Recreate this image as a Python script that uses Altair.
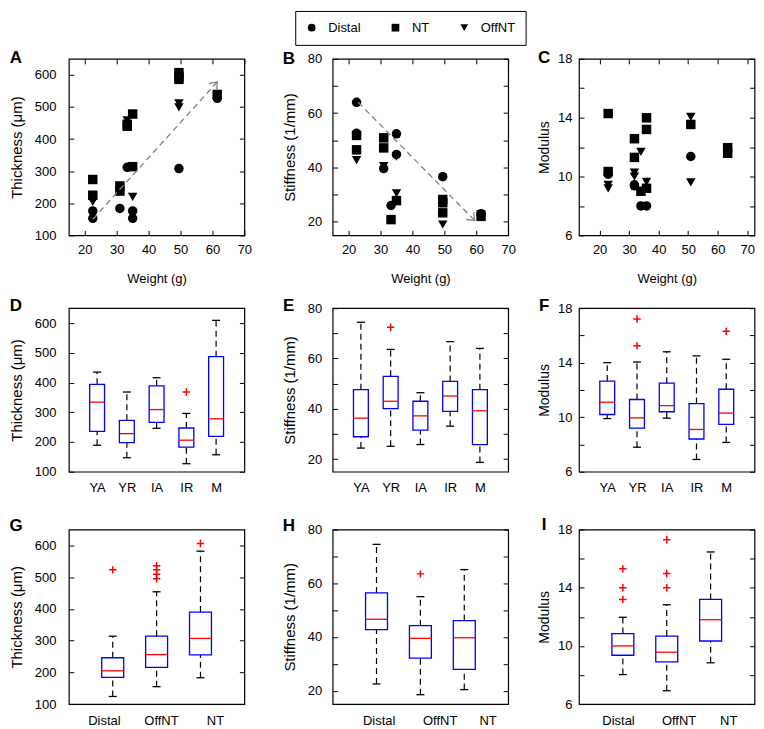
import altair as alt
import pandas as pd

FONT = "Liberation Sans"
BLUE = "#0000ff"
RED = "#ff0000"
GRAY = "#808080"

GROUPS = ["Distal", "NT", "OffNT"]
SHAPES = ["circle", "square", "triangle-down"]

# ---------------- Row 1: values against body weight (g) ----------------
a_weight = [22.5, 22.5, 31, 33.3, 35, 35, 49.5, 61.5,
            22.5, 22.5, 31, 31, 33.3, 33.3, 35, 35, 49.5, 49.5, 49.5, 61.5,
            22.5, 22.5, 31, 33.3, 35, 49.5, 49.5, 61.5]
a_thickness = [176, 153, 184, 312, 176, 153, 308, 527,
               274, 225, 254, 238, 446, 440, 478, 314, 607, 594, 586, 539,
               216, 204, 245, 458, 220, 511, 499, 533]
a_group = ["Distal"] * 8 + ["NT"] * 12 + ["OffNT"] * 8

b_weight = [22.5, 22.5, 31, 33.3, 35, 35, 49.5, 61.5,
            22.5, 22.5, 31, 31, 33.3, 35, 49.5, 49.5, 49.5, 61.5,
            22.5, 22.5, 31, 35, 35, 49.5, 61.5]
b_stiffness = [64, 52.6, 39.6, 26, 52.4, 44.8, 36.6, 23,
               51.8, 46.5, 50.9, 47.2, 20.8, 27.8, 28.2, 27, 23.3, 22,
               46, 42.7, 40.5, 44, 30.5, 19, 22.8]
b_group = ["Distal"] * 8 + ["NT"] * 10 + ["OffNT"] * 7

c_weight = [22.9, 31.8, 31.8, 34.0, 35.9, 50.9,
            22.9, 22.9, 31.8, 31.8, 34.0, 35.9, 35.9, 35.9, 50.9, 63.4, 63.4,
            22.9, 22.9, 31.8, 31.8, 34.0, 35.9, 50.9, 50.9, 63.4]
c_modulus = [10.16, 9.44, 9.37, 8.0, 8.0, 11.36,
             14.28, 10.34, 12.57, 11.3, 9.0, 13.99, 13.2, 9.2, 13.54, 11.96, 11.58,
             9.44, 9.2, 10.27, 10.0, 11.67, 9.64, 14.06, 9.6, 12.0]
c_group = ["Distal"] * 6 + ["NT"] * 11 + ["OffNT"] * 9

arrow_a_weight = [22.5, 61.5]
arrow_a_value = [150, 578]
arrow_b_weight = [23, 59.5]
arrow_b_value = [64, 20.5]

# ---------------- Row 2: by age group ----------------
age_names = ["YA", "YR", "IA", "IR", "M"]
d_lo = [189, 147, 246, 127, 157]
d_q1 = [236, 198, 266, 183, 219]
d_med = [334, 228, 309, 206, 278]
d_q3 = [394, 273, 389, 247, 487]
d_hi = [435, 368, 416, 296, 609]
d_out_pos = [4]
d_out_val = [368]

e_lo = [24.4, 25.1, 25.8, 33.1, 18.7]
e_q1 = [28.9, 40.1, 31.5, 39.0, 25.8]
e_med = [36.3, 43.0, 37.2, 45.1, 39.2]
e_q3 = [47.6, 52.9, 43.0, 50.9, 47.6]
e_hi = [74.4, 63.6, 46.4, 66.7, 64.0]
e_out_pos = [2]
e_out_val = [72.4]

f_lo = [9.9, 7.8, 9.93, 6.9, 8.15]
f_q1 = [10.2, 9.2, 10.4, 8.4, 9.47]
f_med = [11.1, 9.95, 10.85, 9.1, 10.3]
f_q3 = [12.65, 11.3, 12.5, 11.0, 12.05]
f_hi = [14.0, 14.05, 14.8, 14.5, 14.25]
f_out_pos = [2, 2, 5]
f_out_val = [17.2, 15.25, 16.3]

# ---------------- Row 3: by region ----------------
region_names = ["Distal", "OffNT", "NT"]
g_lo = [124, 155, 183]
g_q1 = [184, 216, 255]
g_med = [205, 256, 307]
g_q3 = [246, 314, 390]
g_hi = [314, 454, 582]
g_out_pos = [1, 2, 2, 2, 2, 3]
g_out_val = [523, 536, 523, 509, 495, 606]

h_lo = [22.5, 18.5, 20.4]
h_q1 = [42.7, 32.1, 27.9]
h_med = [46.6, 39.5, 39.7]
h_q3 = [56.4, 44.2, 46.1]
h_hi = [74.5, 55.0, 65.1]
h_out_pos = [2]
h_out_val = [63.5]

i_lo = [8.03, 6.92, 8.84]
i_q1 = [9.36, 8.9, 10.34]
i_med = [10.0, 9.57, 11.8]
i_q3 = [10.85, 10.68, 13.2]
i_hi = [11.97, 12.83, 16.46]
i_out_pos = [1, 1, 1, 2, 2, 2]
i_out_val = [15.3, 14.0, 13.2, 17.3, 14.98, 14.0]

# tick-label positions along the region axes (as drawn in the figure)
g_label_pos = [0.8, 2.1, 3.33]
h_label_pos = [1.05, 2.44, 3.53]
i_label_pos = [0.89, 2.27, 3.4]

# ---------------- styling ----------------
W = 176
ROW_H = [177, 164, 175]
BOX_HALF = 0.25
PLUS = "M-1,0L1,0M0,-1L0,1"
ARROW = "M-1,-0.8L0,0L-1,0.8"

THICK = dict(domain=[100, 650], values=[100, 200, 300, 400, 500, 600],
             expr="datum.label", title="Thickness (\u03bcm)", tfs=15)
STIFF = dict(domain=[15, 80], values=[20, 30, 40, 50, 60, 70, 80],
             expr="datum.value % 20 == 0 ? datum.label : ''", title="Stiffness (1/mm)", tfs=15)
MOD = dict(domain=[6, 18], values=[6, 8, 10, 12, 14, 16, 18],
           expr="(datum.value - 6) % 4 == 0 ? datum.label : ''", title="Modulus", tfs=14)

COLS = [dict(lp=13, tp=10, lx=-53),
        dict(lp=11, tp=10, lx=-44),
        dict(lp=7, tp=6, lx=-35)]


def y_left(cfg, col):
    return alt.Axis(orient="left", values=cfg["values"], labelExpr=cfg["expr"],
                    offset=-5, tickSize=5, labelPadding=col["lp"], title=cfg["title"],
                    titleFontSize=cfg["tfs"], titlePadding=col["tp"])


def y_right(cfg):
    return alt.Axis(orient="right", values=cfg["values"], offset=-5, tickSize=5,
                    labels=False, title=None)


def letter_layer(letter, col, ly):
    return alt.Chart(pd.DataFrame({"t": [letter]})).mark_text(
        font=FONT, fontSize=17, fontWeight="bold", align="center",
        baseline="alphabetic", color="black").encode(
        text="t:N", x=alt.value(col["lx"]), y=alt.value(ly))


def scatter_panel(weights, values, groups, cfg, col, letter, ly, h, legend,
                  xdom=(15, 70), arrow=None):
    df = pd.DataFrame({"w": weights, "v": values, "g": groups})
    xs = alt.Scale(domain=list(xdom), nice=False, zero=False)
    ys = alt.Scale(domain=cfg["domain"], nice=False, zero=False)
    x_bottom = alt.Axis(orient="bottom", values=[20, 30, 40, 50, 60, 70], offset=-5,
                        tickSize=5, labelPadding=8, title="Weight (g)",
                        titleFontSize=13, titlePadding=16)
    x_top = alt.Axis(orient="top", values=[20, 30, 40, 50, 60, 70], offset=-5,
                     tickSize=5, labels=False, title=None)
    pts = alt.Chart(df).mark_point(filled=True, size=90, opacity=1, color="black").encode(
        x=alt.X("w:Q", scale=xs, axis=x_bottom),
        y=alt.Y("v:Q", scale=ys, axis=y_left(cfg, col)),
        shape=alt.Shape("g:N", scale=alt.Scale(domain=GROUPS, range=SHAPES), legend=legend),
    )
    mirror = alt.Chart(df).mark_point(opacity=0).encode(
        x=alt.X("w:Q", scale=xs, axis=x_top),
        y=alt.Y("v:Q", scale=ys, axis=y_right(cfg)),
    )
    layers = [pts, mirror]
    if arrow is not None:
        aw, av, ang = arrow
        adf = pd.DataFrame({"w": aw, "v": av})
        line = alt.Chart(adf).mark_line(color=GRAY, strokeDash=[6, 4], strokeWidth=1.3).encode(
            x=alt.X("w:Q", scale=xs, axis=None), y=alt.Y("v:Q", scale=ys, axis=None))
        head = alt.Chart(adf.tail(1)).mark_point(
            shape=ARROW, angle=ang, size=170, filled=False, color=GRAY, strokeWidth=1.3,
            opacity=1).encode(
            x=alt.X("w:Q", scale=xs, axis=None), y=alt.Y("v:Q", scale=ys, axis=None))
        layers += [line, head]
    layers.append(letter_layer(letter, col, ly))
    return alt.layer(*layers).resolve_axis(x="independent", y="independent").properties(
        width=W, height=h)


def label_expr(positions, names):
    expr = "''"
    for p, n in reversed(list(zip(positions, names))):
        expr = f"datum.value == {p} ? '{n}' : ({expr})"
    return expr


def box_panel(names, lo, q1, med, q3, hi, out_pos, out_val, xdom, lab_pos,
              cfg, col, letter, ly, h):
    pos = list(range(1, len(names) + 1))
    df = pd.DataFrame({"p": pos, "lo": lo, "q1": q1, "med": med, "q3": q3, "hi": hi})
    df["x1"] = df["p"] - BOX_HALF
    df["x2"] = df["p"] + BOX_HALF
    odf = pd.DataFrame({"p": out_pos, "v": out_val})
    xs = alt.Scale(domain=xdom, nice=False, zero=False)
    ys = alt.Scale(domain=cfg["domain"], nice=False, zero=False)
    nx = alt.X("p:Q", scale=xs, axis=None)
    x_bottom = alt.Axis(orient="bottom", values=lab_pos, labelExpr=label_expr(lab_pos, names),
                        ticks=False, tickSize=0, labelPadding=10, title=None)
    base = alt.Chart(df)
    w_up = base.mark_rule(color="black", strokeDash=[6, 4], strokeWidth=1.2).encode(
        x=nx, y=alt.Y("q3:Q", scale=ys, axis=None), y2="hi:Q")
    w_dn = base.mark_rule(color="black", strokeDash=[6, 4], strokeWidth=1.2).encode(
        x=nx, y=alt.Y("lo:Q", scale=ys, axis=None), y2="q1:Q")
    cap_hi = base.mark_tick(orient="horizontal", size=8, thickness=1.3, color="black",
                            opacity=1).encode(x=nx, y=alt.Y("hi:Q", scale=ys, axis=None))
    cap_lo = base.mark_tick(orient="horizontal", size=8, thickness=1.3, color="black",
                            opacity=1).encode(x=nx, y=alt.Y("lo:Q", scale=ys, axis=None))
    box = base.mark_rect(fillOpacity=0, stroke=BLUE, strokeWidth=1.3).encode(
        x=alt.X("x1:Q", scale=xs, axis=x_bottom), x2="x2:Q",
        y=alt.Y("q1:Q", scale=ys, axis=y_left(cfg, col)), y2="q3:Q")
    mirror = base.mark_rect(opacity=0).encode(
        x=alt.X("x1:Q", scale=xs, axis=None), x2="x2:Q",
        y=alt.Y("q1:Q", scale=ys, axis=y_right(cfg)), y2="q3:Q")
    median = base.mark_rule(color=RED, strokeWidth=1.3).encode(
        x=alt.X("x1:Q", scale=xs, axis=None), x2="x2:Q",
        y=alt.Y("med:Q", scale=ys, axis=None))
    outl = alt.Chart(odf).mark_point(shape=PLUS, size=55, filled=False, color=RED,
                                     strokeWidth=1.5, opacity=1).encode(
        x=nx, y=alt.Y("v:Q", scale=ys, axis=None))
    return alt.layer(w_up, w_dn, cap_hi, cap_lo, box, mirror, median, outl,
                     letter_layer(letter, col, ly)).resolve_axis(
        x="independent", y="independent").properties(width=W, height=h)


legend_a = alt.Legend(orient="none", legendX=227, legendY=-48, direction="horizontal",
                      title=None, strokeColor="black", fillColor="white", padding=10,
                      labelFont=FONT, labelFontSize=13, labelColor="black", symbolSize=60,
                      symbolFillColor="black", symbolStrokeColor="black",
                      columnPadding=27, labelOffset=10)

pA = scatter_panel(a_weight, a_thickness, a_group, THICK, COLS[0], "A", 4, ROW_H[0],
                   legend_a, arrow=(arrow_a_weight, arrow_a_value, 312))
pB = scatter_panel(b_weight, b_stiffness, b_group, STIFF, COLS[1], "B", 5, ROW_H[0],
                   None, arrow=(arrow_b_weight, arrow_b_value, 45))
pC = scatter_panel(c_weight, c_modulus, c_group, MOD, COLS[2], "C", 4, ROW_H[0], None,
                   xdom=(13, 72.5))

age_dom = [0.05, 5.95]
age_pos = [1, 2, 3, 4, 5]
pD = box_panel(age_names, d_lo, d_q1, d_med, d_q3, d_hi, d_out_pos, d_out_val, age_dom,
               age_pos, THICK, COLS[0], "D", 3, ROW_H[1])
pE = box_panel(age_names, e_lo, e_q1, e_med, e_q3, e_hi, e_out_pos, e_out_val, age_dom,
               age_pos, STIFF, COLS[1], "E", 3, ROW_H[1])
pF = box_panel(age_names, f_lo, f_q1, f_med, f_q3, f_hi, f_out_pos, f_out_val, age_dom,
               age_pos, MOD, COLS[2], "F", 3, ROW_H[1])

reg_dom = [0, 4]
pG = box_panel(region_names, g_lo, g_q1, g_med, g_q3, g_hi, g_out_pos, g_out_val, reg_dom,
               g_label_pos, THICK, COLS[0], "G", 1, ROW_H[2])
pH = box_panel(region_names, h_lo, h_q1, h_med, h_q3, h_hi, h_out_pos, h_out_val, reg_dom,
               h_label_pos, STIFF, COLS[1], "H", 1, ROW_H[2])
pI = box_panel(region_names, i_lo, i_q1, i_med, i_q3, i_hi, i_out_pos, i_out_val, reg_dom,
               i_label_pos, MOD, COLS[2], "I", 0, ROW_H[2])


def row(p1, p2, p3):
    right = alt.hconcat(p2, p3, spacing=71, bounds="flush")
    return alt.hconcat(p1, right, spacing=88.5, bounds="flush")


row1 = row(pA, pB, pC).resolve_scale(shape="independent").resolve_legend(shape="independent")
row2 = row(pD, pE, pF)
row3 = row(pG, pH, pI)

lower = alt.vconcat(row2, row3, spacing=19, bounds="full")

chart = alt.vconcat(row1, lower, spacing=10, bounds="full").resolve_scale(
    shape="independent").properties(padding=0).configure_view(
    stroke="black", strokeWidth=1.2).configure_axis(
    labelFont=FONT, labelFontSize=13, labelColor="black", titleFont=FONT,
    titleColor="black", titleFontWeight="normal", grid=False, domain=False,
    tickColor="black", tickWidth=1, labelFlush=False, labelOverlap=False)

chart.save("out.html", embed_options={"renderer": "svg", "actions": False})
